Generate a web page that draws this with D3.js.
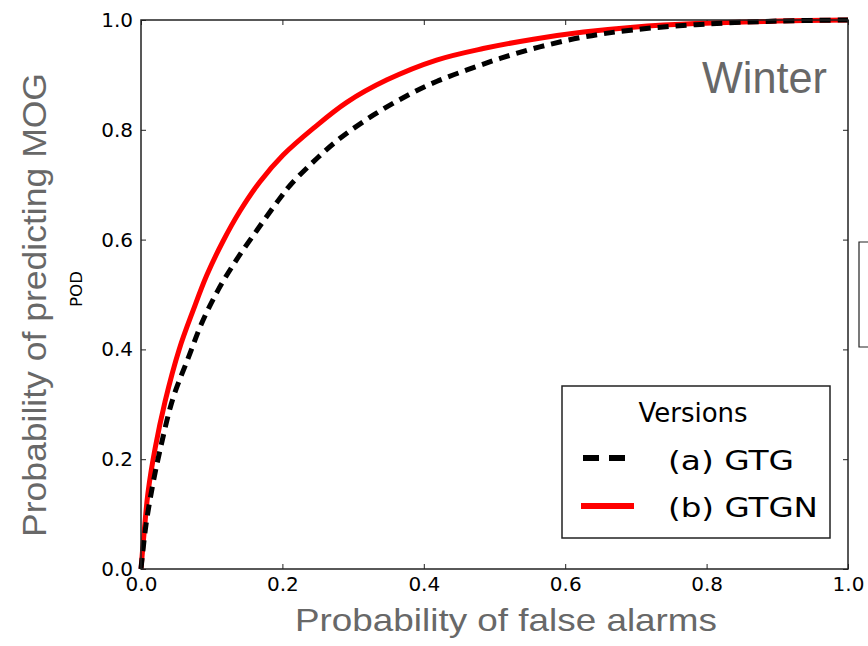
<!DOCTYPE html>
<html>
<head>
<meta charset="utf-8">
<script src="https://cdn.jsdelivr.net/npm/d3@7"></script>
<style>
  body { margin: 0; background: #fff; }
  svg { display: block; }
  .tick text { font-family: "DejaVu Sans", sans-serif; font-size: 20px; fill: #000; }
  .tick line { stroke: #222; stroke-width: 1; }
</style>
</head>
<body>
<div id="chart"></div>
<script>
// ROC curves, winter
var gtgFpr = [0, 0.007, 0.017, 0.027, 0.045, 0.067, 0.086, 0.109, 0.135, 0.164, 0.194, 0.211, 0.244, 0.281, 0.329, 0.376, 0.418, 0.461, 0.508, 0.564, 0.626, 0.696, 0.791, 0.9, 1.0];
var gtgPod = [0, 0.08, 0.156, 0.217, 0.31, 0.385, 0.448, 0.508, 0.563, 0.617, 0.671, 0.699, 0.742, 0.784, 0.827, 0.862, 0.888, 0.909, 0.930, 0.951, 0.969, 0.982, 0.992, 0.998, 1.0];

var gtgnFpr = [0, 0.005, 0.01, 0.02, 0.034, 0.054, 0.074, 0.093, 0.116, 0.14, 0.168, 0.201, 0.244, 0.291, 0.348, 0.418, 0.484, 0.555, 0.626, 0.696, 0.791, 0.9, 1.0];
var gtgnPod = [0, 0.075, 0.14, 0.22, 0.305, 0.40, 0.472, 0.535, 0.597, 0.652, 0.705, 0.754, 0.803, 0.850, 0.891, 0.927, 0.948, 0.965, 0.978, 0.987, 0.994, 0.998, 1.0];

var tickVals = [0, 0.2, 0.4, 0.6, 0.8, 1.0];
var legendTitle = "Versions";
var seriesNames = ["(a) GTG", "(b) GTGN"];

(function() {

var width = 868, height = 646;
var mLeft = 141, mRight = 848, mTop = 20, mBottom = 569;
var grey = "#686868";

var svg = d3.select("#chart")
  .append("svg")
  .attr("width", width)
  .attr("height", height);

var x = d3.scaleLinear().domain([0, 1]).range([mLeft, mRight]);
var y = d3.scaleLinear().domain([0, 1]).range([mBottom, mTop]);

// axes, ticks pointing inward
var fmt = d3.format(".1f");
svg.append("g")
  .attr("transform", "translate(0," + mBottom + ")")
  .call(d3.axisBottom(x).tickValues(tickVals).tickFormat(fmt).tickSizeInner(-5).tickSizeOuter(0).tickPadding(8))
  .call(function(g){ g.select(".domain").remove(); });

svg.append("g")
  .attr("transform", "translate(" + mLeft + ",0)")
  .call(d3.axisLeft(y).tickValues(tickVals).tickFormat(fmt).tickSizeInner(-5).tickSizeOuter(0).tickPadding(8))
  .call(function(g){ g.select(".domain").remove(); });

svg.append("g")
  .attr("transform", "translate(0," + mTop + ")")
  .call(d3.axisTop(x).tickValues(tickVals).tickFormat("").tickSizeInner(-5).tickSizeOuter(0))
  .call(function(g){ g.select(".domain").remove(); });

svg.append("g")
  .attr("transform", "translate(" + mRight + ",0)")
  .call(d3.axisRight(y).tickValues(tickVals).tickFormat("").tickSizeInner(-5).tickSizeOuter(0))
  .call(function(g){ g.select(".domain").remove(); });

// curves
var line = d3.line()
  .x(function(d){ return x(d[0]); })
  .y(function(d){ return y(d[1]); })
  .curve(d3.curveCatmullRom.alpha(0.5));

var gtg = gtgFpr.map(function(v, i){ return [v, gtgPod[i]]; });
var gtgn = gtgnFpr.map(function(v, i){ return [v, gtgnPod[i]]; });

svg.append("path")
  .datum(gtgn)
  .attr("d", line)
  .attr("fill", "none")
  .attr("stroke", "#ff0000")
  .attr("stroke-width", 5);

svg.append("path")
  .datum(gtg)
  .attr("d", line)
  .attr("fill", "none")
  .attr("stroke", "#000")
  .attr("stroke-width", 5)
  .attr("stroke-dasharray", "11,7");

// frame
svg.append("rect")
  .attr("x", mLeft)
  .attr("y", mTop)
  .attr("width", mRight - mLeft)
  .attr("height", mBottom - mTop)
  .attr("fill", "none")
  .attr("stroke", "#222")
  .attr("stroke-width", 1.5);

// bit of the neighbouring panel
svg.append("path")
  .attr("d", "M868,242 H859 V347 H868")
  .attr("fill", "none")
  .attr("stroke", "#222")
  .attr("stroke-width", 1.2);

// legend
var lg = svg.append("g");
lg.append("rect")
  .attr("x", 562).attr("y", 386)
  .attr("width", 268).attr("height", 152)
  .attr("fill", "#fff")
  .attr("stroke", "#222")
  .attr("stroke-width", 1.5);

lg.append("text")
  .attr("x", 693).attr("y", 422)
  .attr("text-anchor", "middle")
  .style("font-family", "DejaVu Sans, sans-serif")
  .style("font-size", "26px")
  .text(legendTitle);

lg.append("line")
  .attr("x1", 583).attr("x2", 626).attr("y1", 458).attr("y2", 458)
  .attr("stroke", "#000").attr("stroke-width", 6)
  .attr("stroke-dasharray", "16,10");

lg.append("line")
  .attr("x1", 581).attr("x2", 634).attr("y1", 506).attr("y2", 506)
  .attr("stroke", "#ff0000").attr("stroke-width", 6);

lg.selectAll(".entry")
  .data(seriesNames)
  .enter().append("text")
  .attr("class", "entry")
  .attr("x", 668)
  .attr("y", function(d, i){ return 470 + i * 47; })
  .attr("textLength", function(d, i){ return i == 0 ? 126 : 150; })
  .attr("lengthAdjust", "spacingAndGlyphs")
  .style("font-family", "DejaVu Sans, sans-serif")
  .style("font-size", "27px")
  .text(function(d){ return d; });

// grey labels
svg.append("text")
  .attr("x", 827).attr("y", 93)
  .attr("text-anchor", "end")
  .attr("textLength", 125)
  .attr("lengthAdjust", "spacingAndGlyphs")
  .style("font-family", "Liberation Sans, Arial, sans-serif")
  .style("font-size", "44px")
  .attr("fill", grey)
  .text("Winter");

svg.append("text")
  .attr("x", 506).attr("y", 631)
  .attr("text-anchor", "middle")
  .attr("textLength", 422)
  .attr("lengthAdjust", "spacingAndGlyphs")
  .style("font-family", "Liberation Sans, Arial, sans-serif")
  .style("font-size", "32px")
  .attr("fill", grey)
  .text("Probability of false alarms");

svg.append("text")
  .attr("transform", "translate(46,305) rotate(-90)")
  .attr("text-anchor", "middle")
  .attr("textLength", 464)
  .attr("lengthAdjust", "spacingAndGlyphs")
  .style("font-family", "Liberation Sans, Arial, sans-serif")
  .style("font-size", "33px")
  .attr("fill", grey)
  .text("Probability of predicting MOG");

svg.append("text")
  .attr("transform", "translate(82,289) rotate(-90)")
  .attr("text-anchor", "middle")
  .attr("textLength", 36)
  .attr("lengthAdjust", "spacingAndGlyphs")
  .style("font-family", "DejaVu Sans, sans-serif")
  .style("font-size", "15px")
  .text("POD");

})();
</script>
</body>
</html>
